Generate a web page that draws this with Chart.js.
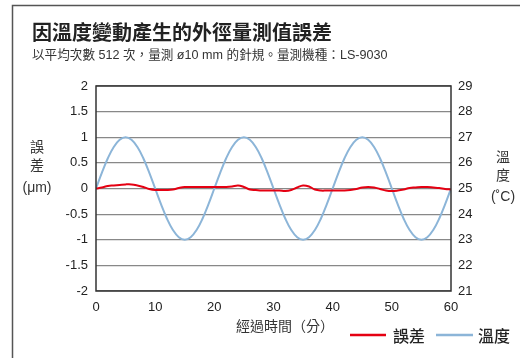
<!DOCTYPE html>
<html>
<head>
<meta charset="utf-8">
<script src="https://cdn.jsdelivr.net/npm/chart.js@4"></script>
<style>
  html, body { margin: 0; padding: 0; background: #fff; }
  #wrap { width: 520px; height: 358px; position: relative; }
</style>
</head>
<body>
<div id="wrap"><canvas id="c" width="520" height="358"></canvas></div>
<script>
// Elapsed time (minutes)
const minutes = [0,1,2,3,4,5,6,7,8,9,10,11,12,13,14,15,16,17,18,19,20,
  21,22,23,24,25,26,27,28,29,30,31,32,33,34,35,36,37,38,39,40,
  41,42,43,44,45,46,47,48,49,50,51,52,53,54,55,56,57,58,59,60];

// Measurement error (µm)
const errorUm = [0.00,0.02,0.05,0.06,0.07,0.08,0.08,0.06,0.03,-0.01,-0.03,
  -0.03,-0.03,-0.02,0.01,0.03,0.03,0.03,0.03,0.03,0.03,
  0.03,0.03,0.04,0.06,0.03,-0.02,-0.03,-0.04,-0.04,-0.04,
  -0.04,-0.05,-0.03,0.02,0.06,0.04,-0.02,-0.04,-0.04,-0.04,
  -0.04,-0.04,-0.03,-0.01,0.02,0.03,0.02,-0.01,-0.04,-0.05,
  -0.04,-0.02,0.01,0.02,0.03,0.03,0.02,0.01,-0.01,-0.02];

// Ambient temperature (°C)
const tempC = [25,25.62,26.18,26.62,26.9,27,26.9,26.62,26.18,25.62,25,
  24.38,23.82,23.38,23.1,23,23.1,23.38,23.82,24.38,25,
  25.62,26.18,26.62,26.9,27,26.9,26.62,26.18,25.62,25,
  24.38,23.82,23.38,23.1,23,23.1,23.38,23.82,24.38,25,
  25.62,26.18,26.62,26.9,27,26.9,26.62,26.18,25.62,25,
  24.38,23.82,23.38,23.1,23,23.1,23.38,23.82,24.38,25];

const xTicks = [0,10,20,30,40,50,60];
const errTicks = [-2,-1.5,-1,-0.5,0,0.5,1,1.5,2];
const tempTicks = [21,22,23,24,25,26,27,28,29];

const titleText = '因溫度變動產生的外徑量測值誤差';
const subtitleText = '以平均次數 512 次，量測 ø10 mm 的針規。量測機種：LS-9030';
const seriesNames = ['誤差', '溫度'];

const RED = '#e50012';
const BLUE = '#8cb5d8';
const CJK = '"Noto Sans CJK TC", "Noto Sans", sans-serif';
const MIX = '"Liberation Sans", "Noto Sans CJK TC", sans-serif';
const LAT = '"Liberation Sans", Arial, sans-serif';

const decor = {
  id: 'decor',
  beforeDraw(chart) {
    const ctx = chart.ctx;
    ctx.save();
    ctx.strokeStyle = '#555';
    ctx.lineWidth = 1.5;
    ctx.beginPath();
    ctx.moveTo(12.5, 400);
    ctx.lineTo(12.5, 5.5);
    ctx.lineTo(600, 5.5);
    ctx.stroke();
    ctx.restore();
  },
  afterDraw(chart) {
    const ctx = chart.ctx;
    const a = chart.chartArea;
    ctx.save();
    // plot frame
    ctx.strokeStyle = '#333';
    ctx.lineWidth = 1.5;
    ctx.strokeRect(a.left, a.top, a.right - a.left, a.bottom - a.top);

    ctx.fillStyle = '#222';
    ctx.textBaseline = 'middle';
    ctx.textAlign = 'left';
    ctx.font = 'bold 20px ' + CJK;
    ctx.fillText(titleText, 32, 32);
    ctx.fillStyle = '#333';
    ctx.font = '12.6px ' + MIX;
    ctx.fillText(subtitleText, 32, 56);

    // axis titles
    ctx.textAlign = 'center';
    ctx.font = '14px ' + MIX;
    ctx.fillText('誤', 37, 148);
    ctx.fillText('差', 37, 166);
    ctx.fillText('(μm)', 37, 188);
    ctx.fillText('溫', 503, 158);
    ctx.fillText('度', 503, 176);
    ctx.fillText('(˚C)', 503, 197);
    ctx.fillText('經過時間（分）', 285, 327);

    // legend
    const ly = 335;
    ctx.lineWidth = 2.5;
    ctx.strokeStyle = RED;
    ctx.beginPath(); ctx.moveTo(350, ly); ctx.lineTo(386, ly); ctx.stroke();
    ctx.strokeStyle = BLUE;
    ctx.beginPath(); ctx.moveTo(436, ly); ctx.lineTo(473, ly); ctx.stroke();
    ctx.fillStyle = '#222';
    ctx.textAlign = 'left';
    ctx.font = '500 16px ' + CJK;
    ctx.fillText(seriesNames[0], 393, ly + 1);
    ctx.fillText(seriesNames[1], 478, ly + 1);
    ctx.restore();
  }
};

const tickFont = { family: LAT, size: 13 };
const plain = v => String(v);

new Chart(document.getElementById('c'), {
  type: 'line',
  data: {
    datasets: [
      {
        label: seriesNames[1],
        data: minutes.map((m, i) => ({ x: m, y: tempC[i] })),
        yAxisID: 'yT',
        borderColor: BLUE,
        borderWidth: 2,
        pointRadius: 0,
        tension: 0.4,
        order: 2
      },
      {
        label: seriesNames[0],
        data: minutes.map((m, i) => ({ x: m, y: errorUm[i] })),
        yAxisID: 'yE',
        borderColor: RED,
        borderWidth: 2,
        pointRadius: 0,
        tension: 0.4,
        order: 1
      }
    ]
  },
  options: {
    responsive: false,
    animation: false,
    layout: { padding: { top: 86, left: 0, right: 0, bottom: 0 } },
    plugins: { legend: { display: false }, tooltip: { enabled: false } },
    scales: {
      x: {
        type: 'linear', min: 0, max: 60,
        afterBuildTicks: s => { s.ticks = xTicks.map(v => ({ value: v })); },
        afterFit: s => { s.height = 67; },
        grid: { display: false, drawTicks: false },
        border: { display: false },
        ticks: { padding: 9, color: '#222', font: tickFont, callback: plain }
      },
      yE: {
        position: 'left', min: -2, max: 2,
        afterBuildTicks: s => { s.ticks = errTicks.map(v => ({ value: v })); },
        afterFit: s => { s.width = 96; },
        grid: { color: '#888', lineWidth: 1.2, drawTicks: false },
        border: { display: false },
        ticks: { padding: 8, color: '#222', font: tickFont, callback: plain }
      },
      yT: {
        position: 'right', min: 21, max: 29,
        afterBuildTicks: s => { s.ticks = tempTicks.map(v => ({ value: v })); },
        afterFit: s => { s.width = 69; },
        grid: { display: false, drawTicks: false },
        border: { display: false },
        ticks: { padding: 7, color: '#222', font: tickFont, callback: plain }
      }
    }
  },
  plugins: [decor]
});
</script>
</body>
</html>
